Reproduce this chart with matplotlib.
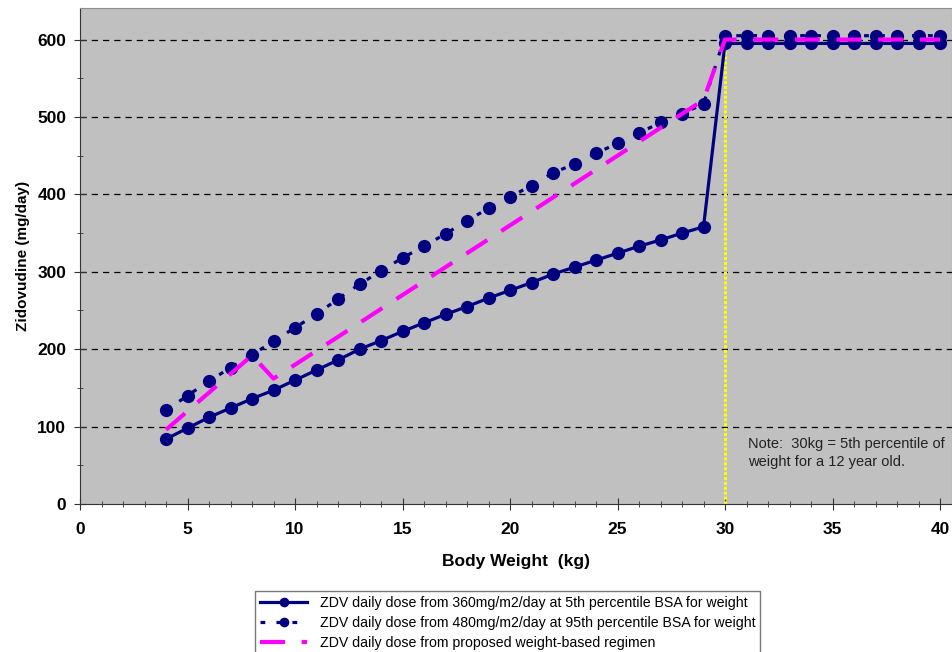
import matplotlib.pyplot as plt
from matplotlib.ticker import MultipleLocator

plt.rcParams['font.family'] = ['Liberation Sans', 'DejaVu Sans']

weights = [4, 5, 6, 7, 8, 9, 10, 11, 12, 13, 14, 15, 16, 17, 18, 19, 20, 21, 22,
           23, 24, 25, 26, 27, 28, 29, 30, 31, 32, 33, 34, 35, 36, 37, 38, 39, 40]

dose_p5 = [84, 98, 112, 124, 136, 147, 160, 173, 186, 200, 211, 223, 234, 245, 255,
           266, 276, 286, 297, 306, 315, 324, 333, 341, 350, 358,
           595, 595, 595, 595, 595, 595, 595, 595, 595, 595, 595]

dose_p95 = [121, 140, 159, 176, 193, 210, 228, 245, 265, 284, 301, 318, 333, 349, 366,
            382, 397, 411, 428, 439, 453, 466, 479, 493, 504, 517,
            605, 605, 605, 605, 605, 605, 605, 605, 605, 605, 605]

dose_regimen = [96, 120, 144, 168, 192, 162, 180, 198, 216, 234, 252, 270, 288, 306,
                324, 342, 360, 378, 396, 414, 432, 450, 468, 486, 504, 522,
                600, 600, 600, 600, 600, 600, 600, 600, 600, 600, 600]

labels = ["ZDV daily dose from 360mg/m2/day at 5th percentile BSA for weight",
          "ZDV daily dose from 480mg/m2/day at 95th percentile BSA for weight",
          "ZDV daily dose from proposed weight-based regimen"]

navy = "#000080"
magenta = "#FF00FF"

fig = plt.figure(figsize=(9.53, 6.52), dpi=100)
ax = fig.add_axes([0.084, 0.227, 0.915, 0.761])
ax.set_facecolor("#C0C0C0")

for y in range(100, 700, 100):
    ax.axhline(y, color="black", lw=0.9, ls=(0, (5, 4)), zorder=1)

ax.plot([30, 30], [0, 600], color="#FFFF00", lw=2.2, ls=(0, (1, 0.6)), zorder=2)

l1, = ax.plot(weights, dose_p5, color=navy, lw=2.3, marker="o", ms=8.5, zorder=3)
l2, = ax.plot(weights, dose_p95, color=navy, lw=2.3, ls=(0, (1.5, 3.5)), marker="o",
              ms=8.5, zorder=3)
l3, = ax.plot(weights, dose_regimen, color=magenta, lw=3, ls=(0, (6, 4)), zorder=4)

ax.text(31.05, 66, "Note:  30kg = 5th percentile of\nweight for a 12 year old.",
        fontsize=10.5, color="#222222", va="center", linespacing=1.3)

ax.set_xlim(0, 40.56)
ax.set_ylim(0, 641)
ax.xaxis.set_major_locator(MultipleLocator(5))
ax.xaxis.set_minor_locator(MultipleLocator(1))
ax.yaxis.set_major_locator(MultipleLocator(100))
ax.yaxis.set_minor_locator(MultipleLocator(50))
ax.tick_params(which="both", direction="inout", colors="#333333", labelcolor="black")
ax.tick_params(which="major", length=8, labelsize=12.5)
ax.tick_params(which="minor", length=5)
ax.tick_params(axis="x", pad=9)
ax.tick_params(axis="y", pad=6)
for lab in ax.get_xticklabels() + ax.get_yticklabels():
    lab.set_fontweight("bold")

for s in ["top", "right"]:
    ax.spines[s].set_color("#909090")
for s in ["left", "bottom"]:
    ax.spines[s].set_color("#333333")

ax.set_xlabel("Body Weight  (kg)", fontsize=12.5, fontweight="bold", labelpad=12)
ax.set_ylabel("Zidovudine (mg/day)", fontsize=11, fontweight="bold", labelpad=5)

fig.legend([l1, l2, l3], labels, loc="upper center", bbox_to_anchor=(0.533, 0.105),
           fontsize=10.2, frameon=True, fancybox=False, edgecolor="#555555",
           labelspacing=0.45, handlelength=3.3, handletextpad=0.9, borderpad=0.35,
           markerscale=0.7)

fig.savefig("out.png", dpi=100)
